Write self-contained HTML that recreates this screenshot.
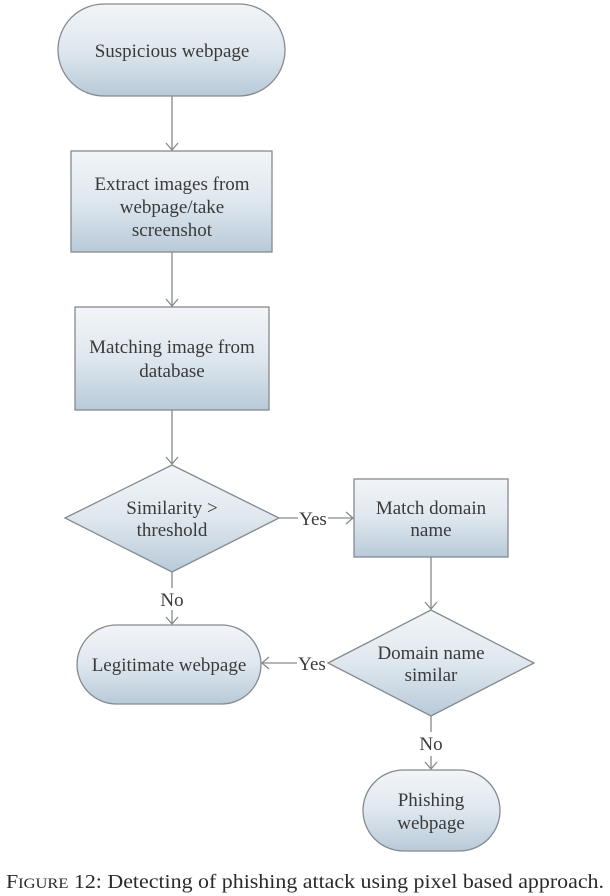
<!DOCTYPE html>
<html><head><meta charset="utf-8"><style>
html,body{margin:0;padding:0;background:#fff;}
svg{display:block;}
text{font-family:"Liberation Serif",serif;fill:#3a3a3a;font-size:19px;}
</style></head><body>
<svg width="610" height="896" viewBox="0 0 610 896" xmlns="http://www.w3.org/2000/svg">
<defs>
<linearGradient id="g" x1="0" y1="0" x2="0" y2="1">
<stop offset="0" stop-color="#f2f5f8"/><stop offset="0.5" stop-color="#dfe7ee"/><stop offset="1" stop-color="#b8cad8"/>
</linearGradient>
</defs>
<g stroke="#858a8f" stroke-width="1.3" fill="url(#g)">
<rect x="58" y="4" width="227" height="92" rx="46"/>
<rect x="71" y="151" width="201" height="101"/>
<rect x="75" y="307" width="194" height="103"/>
<polygon points="65,518 172,465 279,518 172,572"/>
<rect x="354" y="479" width="154" height="78"/>
<polygon points="328,663 431,610 534,663 431,716"/>
<rect x="77" y="625" width="184" height="79" rx="39.5"/>
<rect x="363" y="770" width="137" height="81" rx="40.5"/>
</g>
<g stroke="#858a8f" stroke-width="1.3" fill="none">
<line x1="172" y1="96" x2="172" y2="150"/><polyline points="166,143 172,150 178,143"/>
<line x1="172" y1="252" x2="172" y2="306"/><polyline points="166,299 172,306 178,299"/>
<line x1="172" y1="410" x2="172" y2="464"/><polyline points="166,457 172,464 178,457"/>
<line x1="172" y1="572" x2="172" y2="588"/><line x1="172" y1="610" x2="172" y2="624"/><polyline points="166,617 172,624 178,617"/>
<line x1="279" y1="518" x2="298" y2="518"/><line x1="328" y1="518" x2="353" y2="518"/><polyline points="346,512 353,518 346,524"/>
<line x1="431" y1="557" x2="431" y2="609"/><polyline points="425,602 431,609 437,602"/>
<line x1="297" y1="663" x2="262" y2="663"/><polyline points="269,657 262,663 269,669"/>
<line x1="431" y1="716" x2="431" y2="732"/><line x1="431" y1="756" x2="431" y2="769"/><polyline points="425,762 431,769 437,762"/>
</g>
<g text-anchor="middle">
<text x="172" y="57">Suspicious webpage</text>
<text x="172" y="190">Extract images from</text>
<text x="172" y="213">webpage/take</text>
<text x="172" y="236">screenshot</text>
<text x="172" y="353">Matching image from</text>
<text x="172" y="377">database</text>
<text x="172" y="514">Similarity &gt;</text>
<text x="172" y="536">threshold</text>
<text x="313" y="525">Yes</text>
<text x="431" y="514">Match domain</text>
<text x="431" y="536">name</text>
<text x="172" y="606">No</text>
<text x="169" y="671">Legitimate webpage</text>
<text x="312" y="670">Yes</text>
<text x="431" y="659">Domain name</text>
<text x="431" y="681">similar</text>
<text x="431" y="750">No</text>
<text x="431" y="806">Phishing</text>
<text x="431" y="829">webpage</text>
<text x="305" y="888" textLength="598" lengthAdjust="spacingAndGlyphs" style="font-size:20px;fill:#2a2a2a">F<tspan style="font-size:15px">IGURE</tspan> 12: Detecting of phishing attack using pixel based approach.</text>
</g>
</svg>
</body></html>
